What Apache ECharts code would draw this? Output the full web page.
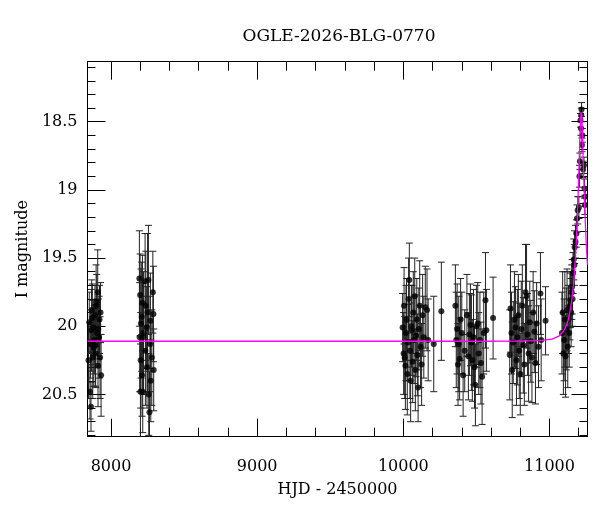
<!DOCTYPE html>
<html>
<head>
<meta charset="utf-8">
<script src="https://cdn.jsdelivr.net/npm/echarts@6/dist/echarts.min.js"></script>
<style>html,body{margin:0;padding:0;background:#fff}#c{width:600px;height:512px}</style>
</head>
<body>
<div id="c"></div>
<script>
// ---- data ----
const titleText = 'OGLE-2026-BLG-0770';
const xName = 'HJD - 2450000';
const yName = 'I magnitude';
const xRange = [7839, 11260];
const yRange = [18.06, 20.81];
const xMajorTicks = [8000, 9000, 10000, 11000];
const xMinorTicks = [8200, 8400, 8600, 8800, 9200, 9400, 9600, 9800, 10200, 10400, 10600, 10800, 11200];
const yMajorTicks = [18.5, 19, 19.5, 20, 20.5];
const yMinorTicks = [18.1, 18.2, 18.3, 18.4, 18.6, 18.7, 18.8, 18.9, 19.1, 19.2, 19.3, 19.4, 19.6, 19.7, 19.8, 19.9, 20.1, 20.2, 20.3, 20.4, 20.6, 20.7, 20.8];

const hjd = [
  7846, 7851, 7856, 7859, 7863, 7866, 7868, 7872, 7875, 7879, 7882, 7886, 7890, 7893, 7895, 7898, 7902, 7905, 7909, 7911, 7913, 7918, 7921, 7925, 7928, 7932,
  8194, 8196, 8199, 8201, 8203, 8205, 8210, 8212, 8215, 8217, 8219, 8222, 8233, 8235, 8238, 8244, 8246, 8250, 8256, 8258, 8263, 8267, 8269, 8272, 8279, 8286, 8290, 8292,
  9995, 10002, 10005, 10009, 10014, 10018, 10022, 10027, 10032, 10036, 10041, 10045, 10050, 10055, 10059, 10064, 10068, 10073, 10078, 10082, 10087, 10092, 10096, 10101, 10106, 10112, 10118, 10125, 10132, 10140, 10150, 10162, 10170, 10208, 10260,
  10356, 10362, 10368, 10374, 10379, 10385, 10392, 10400, 10409, 10420, 10435, 10445, 10452, 10459, 10466, 10472, 10480, 10487, 10493, 10500, 10509, 10516, 10524, 10531, 10539, 10550, 10562, 10568, 10614,
  10728, 10733, 10740, 10745, 10752, 10760, 10767, 10774, 10780, 10787, 10793, 10800, 10807, 10814, 10821, 10828, 10836, 10843, 10850, 10857, 10865, 10872, 10880, 10888, 10896, 10904, 10912, 10925, 10938, 10943, 10973,
  11085, 11090, 11095, 11100, 11105, 11110, 11115, 11120, 11125, 11130, 11135, 11140, 11143, 11148, 11152, 11155, 11158, 11161, 11166, 11170, 11172, 11178, 11184, 11188, 11193, 11201, 11205, 11208, 11212, 11215, 11217, 11219, 11222, 11225, 11230, 11236, 11240, 11242, 11244
];
const mag = [
  20.25, 19.97, 20.48, 20.13, 20.59, 20.03, 19.88, 19.94, 20.23, 20.01, 20.16, 20.10, 19.92, 20.14, 20.20, 19.85, 19.82, 20.05, 19.75, 20.29, 20.02, 20.08, 19.95, 20.23, 19.90, 20.36,
  19.65, 20.08, 19.77, 20.48, 20.25, 19.98, 19.93, 20.36, 19.83, 20.48, 20.08, 20.05, 19.67, 20.18, 19.85, 20.01, 20.30, 19.90, 19.66, 20.50, 20.63, 20.13, 19.96, 20.40, 20.23, 19.75, 19.91, 20.32,
  20.01, 20.20, 19.85, 20.23, 20.29, 20.05, 19.95, 20.35, 20.12, 19.80, 19.66, 20.18, 20.40, 20.00, 20.03, 20.26, 19.90, 20.10, 19.78, 20.32, 20.07, 19.95, 20.21, 20.45, 20.02, 19.85, 20.15, 20.28, 19.92, 20.08, 19.86, 19.88, 20.10, 20.13, 19.89,
  19.85, 20.10, 20.02, 20.28, 20.13, 20.24, 19.95, 20.05, 20.36, 20.18, 19.92, 20.22, 20.06, 19.99, 20.12, 20.25, 20.08, 20.30, 20.43, 20.00, 19.98, 20.20, 20.10, 20.27, 20.37, 20.05, 19.81, 20.03, 19.94,
  20.21, 19.87, 20.05, 20.32, 20.12, 19.95, 20.01, 20.25, 20.08, 19.92, 20.18, 20.35, 20.02, 19.85, 20.14, 20.28, 19.75, 19.78, 20.06, 20.20, 19.97, 20.11, 20.23, 19.90, 20.04, 20.27, 19.98, 20.15, 19.76, 20.10, 19.96,
  20.05, 19.90, 20.20, 20.10, 19.95, 20.22, 20.02, 19.88, 20.15, 19.95, 20.05, 19.85, 19.81, 19.90, 19.75, 19.71, 19.80, 19.61, 19.51, 19.55, 19.42, 19.38, 19.32, 19.21, 19.15, 19.13, 18.90, 18.79, 18.49, 18.55, 18.45, 18.41, 18.67, 18.60, 18.85, 18.82, 18.99, 19.11, 19.05
];
const magErr = [
  0.28, 0.22, 0.20, 0.25, 0.18, 0.30, 0.22, 0.25, 0.30, 0.20, 0.28, 0.25, 0.22, 0.30, 0.25, 0.30, 0.20, 0.25, 0.31, 0.30, 0.22, 0.30, 0.25, 0.30, 0.22, 0.30,
  0.35, 0.40, 0.30, 0.35, 0.35, 0.40, 0.40, 0.30, 0.35, 0.30, 0.40, 0.45, 0.35, 0.40, 0.40, 0.30, 0.30, 0.58, 0.40, 0.30, 0.30, 0.35, 0.35, 0.30, 0.35, 0.30, 0.35, 0.30,
  0.25, 0.30, 0.28, 0.30, 0.32, 0.35, 0.30, 0.30, 0.28, 0.30, 0.27, 0.35, 0.30, 0.30, 0.33, 0.30, 0.30, 0.32, 0.28, 0.30, 0.30, 0.30, 0.30, 0.25, 0.30, 0.33, 0.30, 0.30, 0.30, 0.30, 0.30, 0.30, 0.30, 0.35, 0.36,
  0.30, 0.35, 0.33, 0.30, 0.35, 0.30, 0.30, 0.30, 0.30, 0.30, 0.30, 0.32, 0.30, 0.30, 0.35, 0.30, 0.35, 0.30, 0.30, 0.30, 0.30, 0.30, 0.35, 0.30, 0.35, 0.30, 0.35, 0.30, 0.30,
  0.33, 0.32, 0.30, 0.35, 0.30, 0.35, 0.30, 0.33, 0.35, 0.30, 0.35, 0.30, 0.35, 0.30, 0.35, 0.30, 0.35, 0.38, 0.30, 0.35, 0.30, 0.30, 0.33, 0.30, 0.30, 0.30, 0.30, 0.30, 0.30, 0.30, 0.25,
  0.30, 0.30, 0.30, 0.30, 0.35, 0.30, 0.30, 0.30, 0.30, 0.25, 0.25, 0.25, 0.20, 0.25, 0.20, 0.20, 0.20, 0.15, 0.15, 0.15, 0.12, 0.12, 0.10, 0.10, 0.10, 0.08, 0.08, 0.06, 0.05, 0.05, 0.05, 0.05, 0.05, 0.05, 0.06, 0.06, 0.07, 0.07, 0.07
];

// model curve
const modelHjd = [7839, 10500, 10800, 10950, 11017, 11067, 11097, 11117, 11127, 11137, 11147, 11157, 11167, 11177, 11182, 11187, 11192, 11197, 11202, 11207, 11212, 11214.5, 11217, 11219.5, 11222, 11227, 11232, 11237, 11242, 11247, 11252, 11257, 11260];
const modelMag = [20.11, 20.11, 20.109, 20.104, 20.094, 20.07, 20.035, 19.99, 19.956, 19.91, 19.85, 19.77, 19.66, 19.50, 19.405, 19.29, 19.16, 19.00, 18.83, 18.65, 18.49, 18.445, 18.43, 18.445, 18.49, 18.65, 18.83, 19.00, 19.16, 19.29, 19.405, 19.50, 19.55];

// ---- chart ----
const FONT = 'DejaVu Serif';
const pts = hjd.map((x, i) => [x, mag[i]]);
const bars = hjd.map((x, i) => [x, mag[i], magErr[i]]);
const model = modelHjd.map((x, i) => [x, modelMag[i]]);

function xAx(pos, ticks, len, withLabel) {
  return {
    type: 'value', position: pos, min: xRange[0], max: xRange[1],
    axisLine: { show: true, onZero: false, lineStyle: { color: '#000', width: 1 } },
    axisTick: { show: true, inside: true, length: len, customValues: ticks, lineStyle: { color: '#000', width: 1 } },
    axisLabel: withLabel ? { show: true, customValues: ticks, margin: 22, color: '#000', fontFamily: FONT, fontSize: 16, formatter: v => String(v) } : { show: false },
    splitLine: { show: false },
    name: withLabel ? xName : '', nameLocation: 'middle', nameGap: 45,
    nameTextStyle: { color: '#000', fontFamily: FONT, fontSize: 16 }
  };
}
function yAx(pos, ticks, len, withLabel) {
  return {
    type: 'value', position: pos, min: yRange[0], max: yRange[1], inverse: true,
    axisLine: { show: true, onZero: false, lineStyle: { color: '#000', width: 1 } },
    axisTick: { show: true, inside: true, length: len, customValues: ticks, lineStyle: { color: '#000', width: 1 } },
    axisLabel: withLabel ? { show: true, customValues: ticks, margin: 10, color: '#000', fontFamily: FONT, fontSize: 16, formatter: v => String(v) } : { show: false },
    splitLine: { show: false },
    name: withLabel ? yName : '', nameLocation: 'middle', nameGap: 57, nameRotate: 90,
    nameTextStyle: { color: '#000', fontFamily: FONT, fontSize: 16 }
  };
}

const chart = echarts.init(document.getElementById('c'), null, { renderer: 'canvas' });
chart.setOption({
  animation: false,
  backgroundColor: '#fff',
  title: { text: titleText, left: 334, top: 23, textAlign: 'center',
    textStyle: { color: '#000', fontFamily: FONT, fontSize: 17, fontWeight: 'normal' } },
  grid: { left: 87.5, right: 12.5, top: 61.7, bottom: 75.3, containLabel: false },
  xAxis: [
    xAx('bottom', xMajorTicks, 18, true),
    xAx('bottom', xMinorTicks, 9, false),
    xAx('top', xMajorTicks, 18, false),
    xAx('top', xMinorTicks, 9, false)
  ],
  yAxis: [
    yAx('left', yMajorTicks, 18, true),
    yAx('left', yMinorTicks, 8, false),
    yAx('right', yMajorTicks, 16, false),
    yAx('right', yMinorTicks, 8, false)
  ],
  series: [
    {
      type: 'custom', xAxisIndex: 0, yAxisIndex: 0, clip: true, z: 2,
      data: bars,
      renderItem: function (params, api) {
        const x = api.value(0), y = api.value(1), e = api.value(2);
        const t = api.coord([x, y - e]);
        const b = api.coord([x, y + e]);
        const hw = 3.5;
        const st = { stroke: '#222', lineWidth: 1 };
        return { type: 'group', children: [
          { type: 'line', shape: { x1: t[0], y1: t[1], x2: b[0], y2: b[1] }, style: st },
          { type: 'line', shape: { x1: t[0] - hw, y1: t[1], x2: t[0] + hw, y2: t[1] }, style: st },
          { type: 'line', shape: { x1: b[0] - hw, y1: b[1], x2: b[0] + hw, y2: b[1] }, style: st }
        ] };
      }
    },
    {
      type: 'scatter', xAxisIndex: 0, yAxisIndex: 0, z: 3,
      data: pts, symbol: 'circle', symbolSize: 6,
      itemStyle: { color: '#000' }
    },
    {
      type: 'line', xAxisIndex: 0, yAxisIndex: 0, z: 4,
      data: model, showSymbol: false, smooth: false, clip: true,
      lineStyle: { color: '#ff00ff', width: 1.3 }
    }
  ]
});
</script>
</body>
</html>
